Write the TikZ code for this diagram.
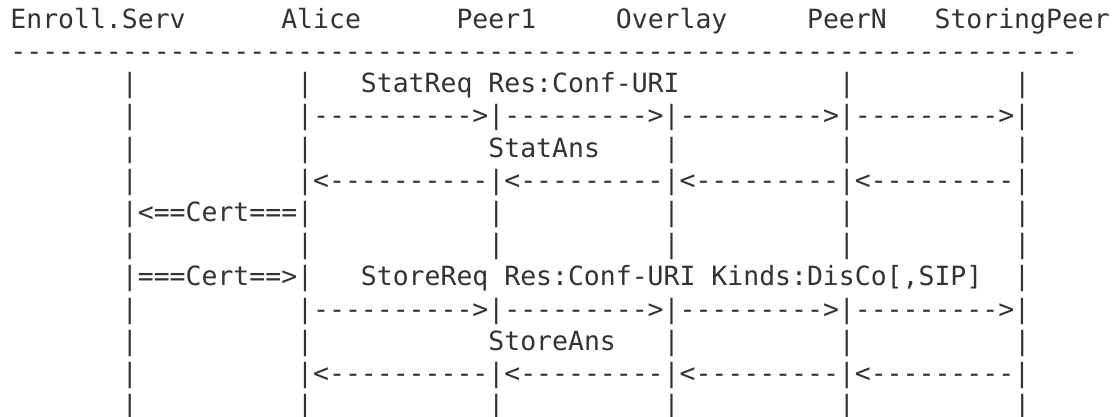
\documentclass[tikz,border=0pt]{standalone}
\usepackage{fontspec}
\setmonofont{DejaVu Sans Mono}
\definecolor{txtColor}{HTML}{333333}
\newcommand{\rep}[2]{\foreach \i in {1,...,#1}{#2}}
\newcommand{\gap}[1]{\hspace*{#1\fontcharwd\font`0}}
\newcommand{\fwd}[1]{\rep{#1}{-}>}
\newcommand{\bwd}[1]{<\rep{#1}{-}}
\tikzset{
	ascii/.style={anchor=base west, inner sep=0pt, outer sep=0pt, text=txtColor,
		font=\ttfamily\fontsize{19.85pt}{24pt}\selectfont}
}

\begin{document}
\begin{tikzpicture}[x=0.75pt, y=-0.75pt]
	\fill[white] (0,0) rectangle (1118,417);
	\useasboundingbox (0,0) rectangle (1118,417);
	\node[ascii] (head) at (10.4, 28.3) {Enroll.Serv\gap{6}Alice\gap{6}Peer1\gap{5}Overlay\gap{5}PeerN\gap{3}StoringPeer};
	\node[ascii] (rule) at (10.4, 60.5) {\rep{67}{-}};
	\node[ascii] (statreq) at (10.4, 92.7) {\gap{7}|\gap{10}|\gap{3}StatReq Res:Conf-URI\gap{10}|\gap{10}|};
	\node[ascii] (statfwd) at (10.4, 124.9) {\gap{7}|\gap{10}|\fwd{10}|\fwd{9}|\fwd{9}|\fwd{9}|};
	\node[ascii] (statans) at (10.4, 157.1) {\gap{7}|\gap{10}|\gap{11}StatAns\gap{4}|\gap{10}|\gap{10}|};
	\node[ascii] (statbwd) at (10.4, 189.3) {\gap{7}|\gap{10}|\bwd{10}|\bwd{9}|\bwd{9}|\bwd{9}|};
	\node[ascii] (certin) at (10.4, 221.5) {\gap{7}|<==Cert===|\gap{11}|\gap{10}|\gap{10}|\gap{10}|};
	\node[ascii] (idle1) at (10.4, 253.7) {\gap{7}|\gap{10}|\gap{11}|\gap{10}|\gap{10}|\gap{10}|};
	\node[ascii] (certout) at (10.4, 285.9) {\gap{7}|===Cert==>|\gap{3}StoreReq Res:Conf-URI Kinds:DisCo[,SIP]\gap{2}|};
	\node[ascii] (storefwd) at (10.4, 318.1) {\gap{7}|\gap{10}|\fwd{10}|\fwd{9}|\fwd{9}|\fwd{9}|};
	\node[ascii] (storeans) at (10.4, 350.3) {\gap{7}|\gap{10}|\gap{11}StoreAns\gap{3}|\gap{10}|\gap{10}|};
	\node[ascii] (storebwd) at (10.4, 382.5) {\gap{7}|\gap{10}|\bwd{10}|\bwd{9}|\bwd{9}|\bwd{9}|};
	\node[ascii] (idle2) at (10.4, 414.7) {\gap{7}|\gap{10}|\gap{11}|\gap{10}|\gap{10}|\gap{10}|};
\end{tikzpicture}
\end{document}
